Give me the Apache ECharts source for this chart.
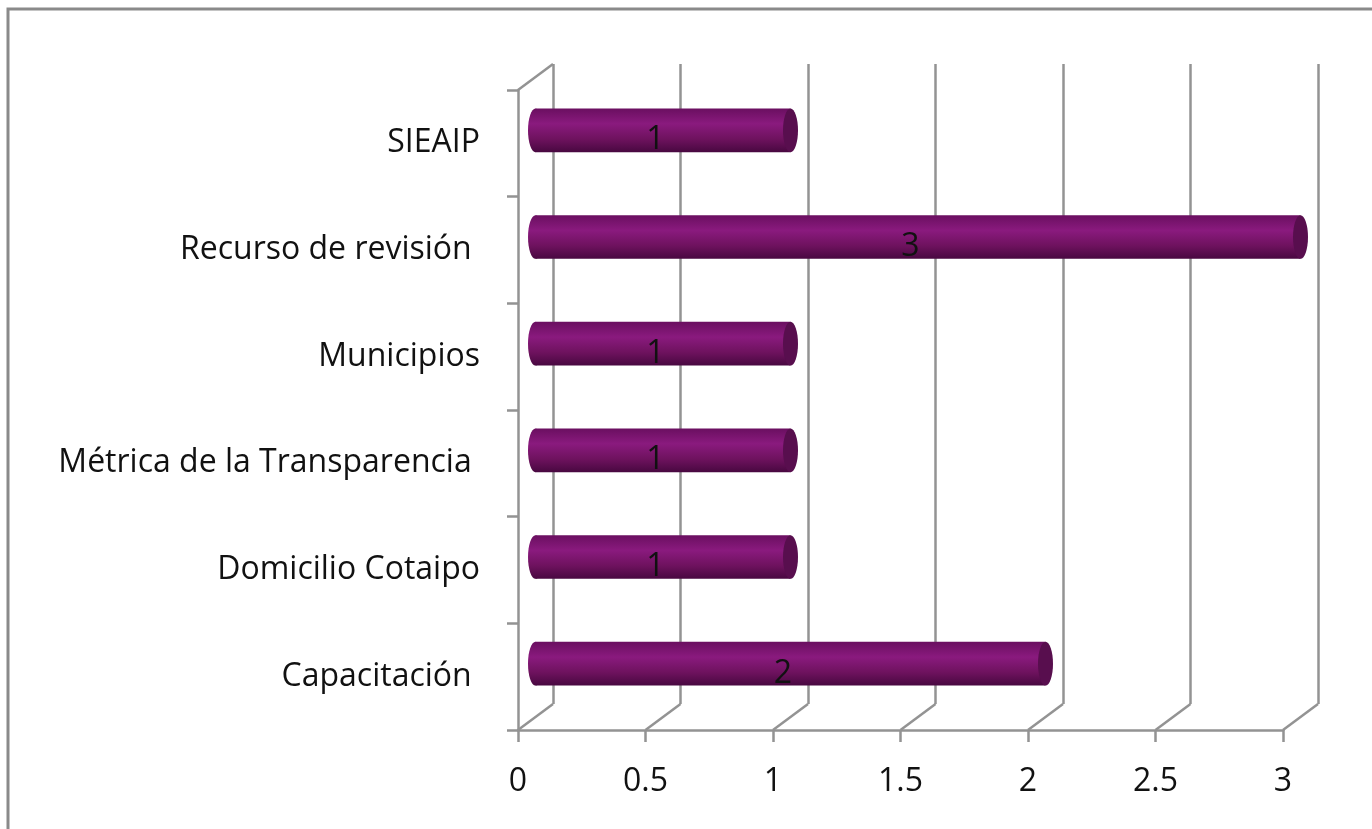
<!DOCTYPE html>
<html>
<head>
<meta charset="utf-8">
<script src="https://cdn.jsdelivr.net/npm/echarts@6/dist/echarts.min.js"></script>
<style>
  html, body { margin: 0; padding: 0; background: #fff; }
  #chart { width: 1372px; height: 829px; }
</style>
</head>
<body>
<div id="chart"></div>
<script>
// categories bottom -> top (ECharts category y axis order)
const categories = ['Capacitación ', 'Domicilio Cotaipo', 'Métrica de la Transparencia ', 'Municipios', 'Recurso de revisión ', 'SIEAIP'];
const values = [2, 1, 1, 1, 3, 1];
const xTicks = [0, 0.5, 1, 1.5, 2, 2.5, 3];

// 3D depth offset of the back wall
const DX = 35, DY = 26;
const FONT = '"Open Sans", Lato, sans-serif';
const FONT_SIZE = 32;
const GRID_COLOR = '#939393';

const chart = echarts.init(document.getElementById('chart'));

function renderCylinder(params, api) {
  const idx = api.value(1);
  const val = api.value(0);
  const start = api.coord([0, idx]);
  const end = api.coord([val, idx]);
  const mid = api.coord([val / 2, idx]);
  const h = api.size([0, 1])[1] * 0.41;
  const x0 = start[0] + DX / 2, x1 = end[0] + DX / 2, cy = start[1] - DY / 2;
  const rx = 7.5;
  const grad = () => new echarts.graphic.LinearGradient(0, 0, 0, 1, [
    { offset: 0, color: '#6a0f60' },
    { offset: 0.35, color: '#8a1a7e' },
    { offset: 0.7, color: '#6e125e' },
    { offset: 1, color: '#480840' }
  ]);
  return {
    type: 'group',
    children: [
      { type: 'ellipse', shape: { cx: x0, cy: cy, rx: rx, ry: h / 2 }, style: { fill: grad() } },
      { type: 'rect', shape: { x: x0, y: cy - h / 2, width: x1 - x0, height: h }, style: { fill: grad() } },
      { type: 'ellipse', shape: { cx: x1, cy: cy, rx: rx, ry: h / 2 }, style: { fill: '#580e4e' } },
      {
        type: 'text',
        style: {
          text: String(val), x: mid[0] + 10, y: mid[1] - 3,
          fill: '#111', font: FONT_SIZE + 'px ' + FONT, align: 'center', verticalAlign: 'middle'
        }
      }
    ]
  };
}

function renderDiagonals(params, api) {
  const cs = params.coordSys;
  const v = api.value(0);
  const x = api.coord([v, 0])[0];
  const bottom = cs.y + cs.height;
  const lineStyle = { stroke: GRID_COLOR, lineWidth: 2.5 };
  const children = [
    { type: 'line', shape: { x1: x, y1: bottom, x2: x + DX, y2: bottom - DY }, style: lineStyle }
  ];
  if (params.dataIndex === 0) {
    children.push({ type: 'line', shape: { x1: x, y1: cs.y, x2: x + DX, y2: cs.y - DY }, style: lineStyle });
  }
  return { type: 'group', children: children };
}

const option = {
  animation: false,
  backgroundColor: '#fff',
  graphic: [{
    type: 'rect',
    shape: { x: 8, y: 9, width: 1400, height: 840 },
    style: { fill: 'none', stroke: '#8a8a8a', lineWidth: 3 },
    z: 100
  }],
  grid: [
    { left: 518, right: 89, top: 90, bottom: 99 },
    { left: 518 + DX, right: 89 - DX, top: 90 - DY, bottom: 99 + DY }
  ],
  xAxis: [
    {
      gridIndex: 0, type: 'value', min: 0, max: 3, interval: 0.5,
      axisLine: { show: true, lineStyle: { color: GRID_COLOR, width: 2.5 } },
      axisTick: { show: true, length: 12, lineStyle: { color: GRID_COLOR, width: 2.5 } },
      splitLine: { show: false },
      axisLabel: { color: '#111', fontSize: FONT_SIZE, fontFamily: FONT, margin: 36 }
    },
    {
      gridIndex: 1, type: 'value', min: 0, max: 3, interval: 0.5,
      axisLine: { show: false }, axisTick: { show: false }, axisLabel: { show: false },
      splitLine: { show: true, lineStyle: { color: GRID_COLOR, width: 2.5 } }
    }
  ],
  yAxis: [
    {
      gridIndex: 0, type: 'category', data: categories,
      axisLine: { show: true, lineStyle: { color: GRID_COLOR, width: 2.5 } },
      axisTick: { show: true, length: 11, lineStyle: { color: GRID_COLOR, width: 2.5 } },
      axisLabel: { color: '#111', fontSize: FONT_SIZE, fontFamily: FONT, margin: 38 }
    },
    {
      gridIndex: 1, type: 'category', data: categories,
      axisLine: { show: false }, axisTick: { show: false }, axisLabel: { show: false },
      splitLine: { show: false }
    }
  ],
  series: [
    {
      type: 'custom',
      xAxisIndex: 0, yAxisIndex: 0,
      data: xTicks.map(v => [v]),
      encode: { x: 0 },
      renderItem: renderDiagonals,
      silent: true,
      clip: false,
      z: 1
    },
    {
      type: 'custom',
      xAxisIndex: 0, yAxisIndex: 0,
      data: values.map((v, i) => [v, i]),
      encode: { x: 0, y: 1 },
      renderItem: renderCylinder,
      clip: false,
      z: 5
    }
  ]
};

chart.setOption(option);
</script>
</body>
</html>
